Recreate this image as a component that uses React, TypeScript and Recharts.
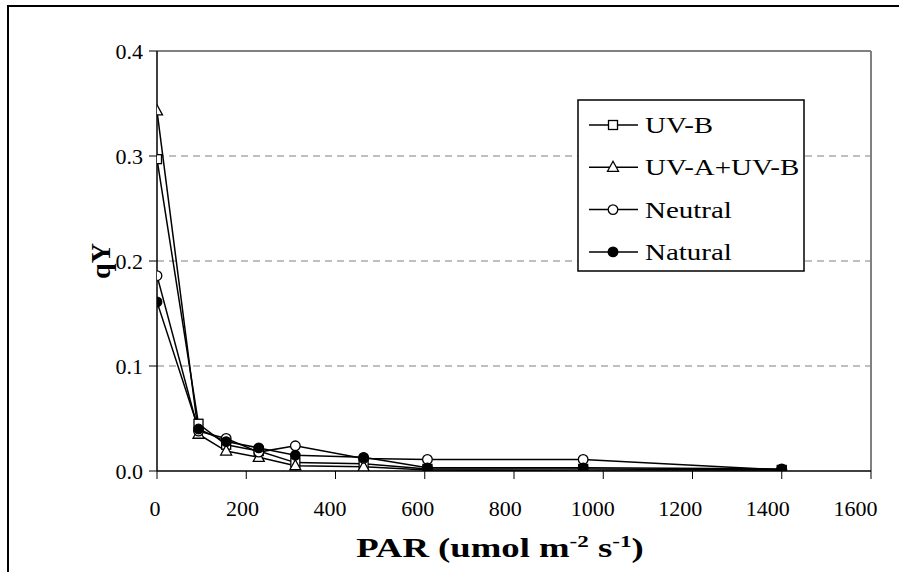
import React from "react";
import { LineChart, Line, XAxis, YAxis, ReferenceLine, Label } from "recharts";

const parValues = [0, 93, 155, 228, 310, 463, 606, 955, 1400];
const uvB = [0.297, 0.045, 0.025, 0.019, 0.008, 0.007, 0.002, 0.002, 0.001];
const uvAuvB = [0.343, 0.035, 0.019, 0.013, 0.005, 0.004, 0.001, 0.0, 0.0];
const neutral = [0.186, 0.038, 0.031, 0.018, 0.024, 0.012, 0.011, 0.011, 0.001];
const natural = [0.161, 0.04, 0.028, 0.022, 0.015, 0.013, 0.003, 0.003, 0.002];

const seriesNames = ["UV-B", "UV-A+UV-B", "Neutral", "Natural"];
const xTicks = [0, 200, 400, 600, 800, 1000, 1200, 1400, 1600];
const yTicks = [0, 0.1, 0.2, 0.3, 0.4];
const gridValues = [0.1, 0.2, 0.3];

const data = parValues.map((p, i) => ({
  par: p,
  uvB: uvB[i],
  uvAuvB: uvAuvB[i],
  neutral: neutral[i],
  natural: natural[i],
}));

const FONT = "Liberation Serif";

type Shape = "square" | "triangle" | "circle" | "filled";

function Marker({ cx, cy, shape }: { cx: number; cy: number; shape: Shape }) {
  if (cx == null || cy == null) return null;
  if (shape === "square")
    return <rect x={cx - 4.5} y={cy - 4.5} width={9} height={9} fill="#fff" stroke="#000" strokeWidth={1.3} />;
  if (shape === "triangle")
    return (
      <polygon
        points={`${cx},${cy - 6} ${cx + 5.5},${cy + 4} ${cx - 5.5},${cy + 4}`}
        fill="#fff"
        stroke="#000"
        strokeWidth={1.3}
      />
    );
  if (shape === "circle") return <circle cx={cx} cy={cy} r={4.8} fill="#fff" stroke="#000" strokeWidth={1.3} />;
  return <circle cx={cx} cy={cy} r={4.8} fill="#000" stroke="#000" strokeWidth={1.3} />;
}

const makeDot = (shape: Shape) => (props: any) =>
  <Marker key={`${shape}-${props.index}`} cx={props.cx} cy={props.cy} shape={shape} />;

const shapes: Shape[] = ["square", "triangle", "circle", "filled"];

function LegendBox() {
  return (
    <svg width={228} height={173} style={{ position: "absolute", left: 577, top: 99 }}>
      <rect x={1} y={1} width={226} height={171} fill="#fff" stroke="#000" strokeWidth={1.5} />
      {seriesNames.map((n, i) => {
        const cy = 26 + i * 42.3;
        return (
          <g key={n}>
            <line x1={12} y1={cy} x2={61} y2={cy} stroke="#000" strokeWidth={1.5} />
            <Marker cx={36} cy={cy} shape={shapes[i]} />
            <text x={0} y={0} fontFamily={FONT} fontSize={23} fill="#000" transform={`translate(68 ${cy + 8}) scale(1.26 1)`}>
              {n}
            </text>
          </g>
        );
      })}
    </svg>
  );
}

const XTick = (props: any) => {
  const { x, y, payload } = props;
  const v = payload.value as number;
  return (
    <text x={x - 2 - v * 0.0085} y={y + 16} textAnchor="middle" fontFamily={FONT} fontSize={22} fill="#000">
      {String(v)}
    </text>
  );
};

const YTick = (props: any) => {
  const { x, y, payload } = props;
  const v = payload.value as number;
  return (
    <text x={x} y={y + 7.5} textAnchor="end" fontFamily={FONT} fontSize={22} fill="#000">
      {v.toFixed(1)}
    </text>
  );
};

export default function App() {
  return (
    <div style={{ position: "absolute", left: 0, top: 0, width: 899, height: 572, overflow: "hidden", background: "#fff" }}>
      <div style={{ position: "absolute", left: 7, top: 5, width: 1000, height: 1000, border: "2px solid #000" }} />
      <div style={{ position: "absolute", left: 0, top: 0 }}>
        <LineChart width={899} height={572} data={data} margin={{ top: 51, right: 28, bottom: 0, left: 0 }}>
          {gridValues.map((g) => (
            <ReferenceLine key={g} y={g} stroke="#808080" strokeWidth={1.2} strokeDasharray="7 5" />
          ))}
          <ReferenceLine y={0.4} stroke="#808080" strokeWidth={2} />
          <ReferenceLine x={1600} stroke="#808080" strokeWidth={2} />
          <XAxis
            dataKey="par"
            type="number"
            domain={[0, 1600]}
            ticks={xTicks}
            height={101}
            stroke="#000"
            strokeWidth={1.5}
            tickSize={8}
            tickMargin={21}
            tick={<XTick />}
            tickLine={{ stroke: "#000", strokeWidth: 1 }}
            allowDataOverflow
          >
            <Label
              content={() => (
                <text
                  x={0}
                  y={0}
                  textAnchor="middle"
                  fontFamily={FONT}
                  fontWeight="bold"
                  fontSize={27}
                  fill="#000"
                  transform="translate(500 557) scale(1.36 1)"
                >
                  PAR (umol m
                  <tspan dy={-10} fontSize={17}>-2</tspan>
                  <tspan dy={10}> s</tspan>
                  <tspan dy={-10} fontSize={17}>-1</tspan>
                  <tspan dy={10}>)</tspan>
                </text>
              )}
            />
          </XAxis>
          <YAxis
            type="number"
            domain={[0, 0.4]}
            ticks={yTicks}
            width={157}
            stroke="#000"
            strokeWidth={1.5}
            tickSize={8}
            tickMargin={6}
            tick={<YTick />}
            tickLine={{ stroke: "#000", strokeWidth: 1 }}
            allowDataOverflow
          >
            <Label
              content={() => (
                <text
                  x={110}
                  y={261}
                  textAnchor="middle"
                  transform="rotate(-90 110 261)"
                  fontFamily={FONT}
                  fontWeight="bold"
                  fontSize={28}
                  fill="#000"
                >
                  qY
                </text>
              )}
            />
          </YAxis>
          <Line dataKey="uvB" name="UV-B" type="linear" stroke="#000" strokeWidth={1.5} dot={makeDot("square")} isAnimationActive={false} />
          <Line dataKey="uvAuvB" name="UV-A+UV-B" type="linear" stroke="#000" strokeWidth={1.5} dot={makeDot("triangle")} isAnimationActive={false} />
          <Line dataKey="neutral" name="Neutral" type="linear" stroke="#000" strokeWidth={1.5} dot={makeDot("circle")} isAnimationActive={false} />
          <Line dataKey="natural" name="Natural" type="linear" stroke="#000" strokeWidth={1.5} dot={makeDot("filled")} isAnimationActive={false} />
        </LineChart>
      </div>
      <LegendBox />
    </div>
  );
}
